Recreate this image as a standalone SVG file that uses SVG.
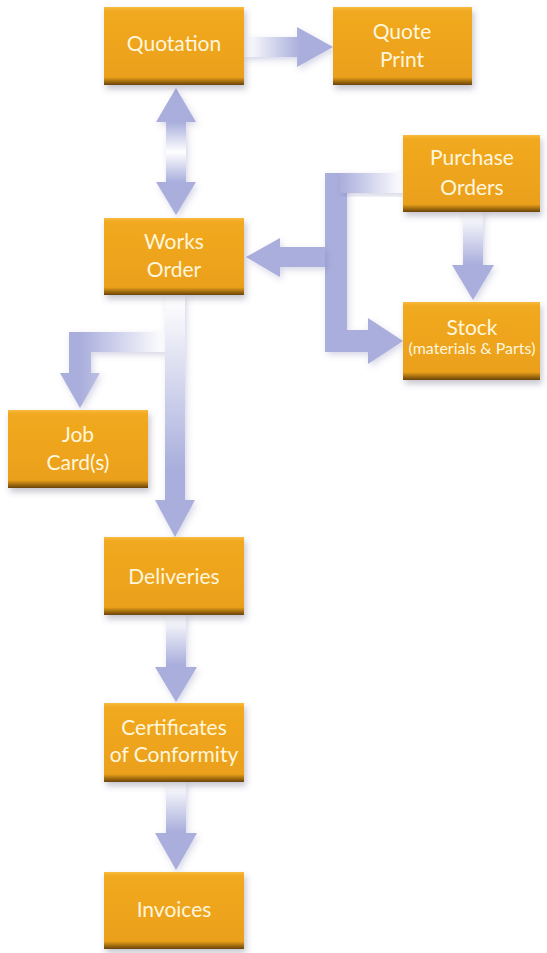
<svg xmlns="http://www.w3.org/2000/svg" width="547" height="953" viewBox="0 0 547 953">
<style>
.box{fill:url(#boxg);filter:url(#sh)}
.lbl{font-family:Lato,"Open Sans","DejaVu Sans",sans-serif;font-size:21px;fill:#FFF6DC;text-anchor:middle}
.sm{font-size:16px}
.arr{fill:#A9AEDC;filter:url(#ash)}
</style>
<defs>
<linearGradient id="boxg" x1="0" y1="0" x2="0" y2="1">
<stop offset="0" stop-color="#F8BC3E"/>
<stop offset="0.05" stop-color="#F1A920"/>
<stop offset="0.9" stop-color="#EBA01A"/>
<stop offset="0.95" stop-color="#A87210"/>
<stop offset="1" stop-color="#6A4408"/>
</linearGradient>
<filter id="sh" x="-10%" y="-10%" width="125%" height="130%">
<feDropShadow dx="2" dy="4" stdDeviation="3" flood-color="#404060" flood-opacity="0.3"/>
</filter>
<filter id="ash" x="-20%" y="-20%" width="140%" height="140%">
<feDropShadow dx="2" dy="3" stdDeviation="3" flood-color="#6064A0" flood-opacity="0.25"/>
</filter>
<linearGradient id="gq" gradientUnits="userSpaceOnUse" x1="246" y1="0" x2="300" y2="0">
<stop offset="0" stop-color="#FFFFFF"/>
<stop offset="1" stop-color="#A9AEDC"/>
</linearGradient>
<linearGradient id="gd" gradientUnits="userSpaceOnUse" x1="0" y1="122" x2="0" y2="182">
<stop offset="0" stop-color="#A9AEDC"/>
<stop offset="0.5" stop-color="#FFFFFF"/>
<stop offset="1" stop-color="#A9AEDC"/>
</linearGradient>
<linearGradient id="gv1" gradientUnits="userSpaceOnUse" x1="0" y1="297" x2="0" y2="470">
<stop offset="0" stop-color="#FFFFFF"/>
<stop offset="1" stop-color="#A9AEDC"/>
</linearGradient>
<linearGradient id="gv2" gradientUnits="userSpaceOnUse" x1="0" y1="617" x2="0" y2="665">
<stop offset="0" stop-color="#FFFFFF"/>
<stop offset="1" stop-color="#A9AEDC"/>
</linearGradient>
<linearGradient id="gv3" gradientUnits="userSpaceOnUse" x1="0" y1="784" x2="0" y2="832">
<stop offset="0" stop-color="#FFFFFF"/>
<stop offset="1" stop-color="#A9AEDC"/>
</linearGradient>
<linearGradient id="gv4" gradientUnits="userSpaceOnUse" x1="0" y1="214" x2="0" y2="265">
<stop offset="0" stop-color="#FFFFFF"/>
<stop offset="1" stop-color="#A9AEDC"/>
</linearGradient>
<linearGradient id="gh1" gradientUnits="userSpaceOnUse" x1="165" y1="0" x2="80" y2="0">
<stop offset="0" stop-color="#FFFFFF"/>
<stop offset="1" stop-color="#A9AEDC"/>
</linearGradient>
<linearGradient id="gh2" gradientUnits="userSpaceOnUse" x1="403" y1="0" x2="340" y2="0">
<stop offset="0" stop-color="#FFFFFF"/>
<stop offset="1" stop-color="#A9AEDC"/>
</linearGradient>
</defs>

<g id="connectors">
<polygon class="arr" style="fill:url(#gq)" points="244,37 297,37 297,27 333,47 297,67 297,57 244,57"/>
<polygon class="arr" style="fill:url(#gd)" points="176,88 196,122 186,122 186,182 196,182 176,215 156,182 166,182 166,122 156,122"/>
<polygon class="arr" points="325,173 347,173 347,330 368,330 368,318 403,341 368,364 368,352 325,352"/>
<polygon class="arr" points="325,247 325,267 280,267 280,277 246,257 280,238 280,247"/>
<rect class="arr" style="fill:url(#gh2)" x="340" y="173" width="63" height="20"/>
<polygon class="arr" style="fill:url(#gv4)" points="463,212 483,212 483,265 494,265 473,300 452,265 463,265"/>
<polygon class="arr" style="fill:url(#gh1)" points="165,332 165,352 91,352 91,373 100,373 80,408 60,373 69,373 69,332"/>
<polygon class="arr" style="fill:url(#gv1)" points="165,295 185,295 185,500 195,500 175,537 155,500 165,500"/>
<polygon class="arr" style="fill:url(#gv2)" points="166,615 186,615 186,667 197,667 176,702 155,667 166,667"/>
<polygon class="arr" style="fill:url(#gv3)" points="166,782 186,782 186,833 197,833 176,870 155,833 166,833"/>
</g>

<g id="quotation"><rect class="box" x="104" y="7" width="140" height="78"/><text class="lbl" x="174" y="51">Quotation</text></g>
<g id="quote-print"><rect class="box" x="333" y="7" width="139" height="78"/><text class="lbl" x="402" y="39">Quote</text><text class="lbl" x="402" y="67">Print</text></g>
<g id="purchase-orders"><rect class="box" x="403" y="135" width="137" height="77"/><text class="lbl" x="472" y="165">Purchase</text><text class="lbl" x="472" y="195">Orders</text></g>
<g id="works-order"><rect class="box" x="104" y="218" width="140" height="77"/><text class="lbl" x="174" y="249">Works</text><text class="lbl" x="174" y="277">Order</text></g>
<g id="stock"><rect class="box" x="403" y="302" width="137" height="78"/><text class="lbl" x="472" y="335">Stock</text><text class="lbl sm" x="472" y="354">(materials &amp; Parts)</text></g>
<g id="job-cards"><rect class="box" x="8" y="410" width="140" height="78"/><text class="lbl" x="78" y="442">Job</text><text class="lbl" x="78" y="470">Card(s)</text></g>
<g id="deliveries"><rect class="box" x="104" y="537" width="140" height="78"/><text class="lbl" x="174" y="584">Deliveries</text></g>
<g id="certificates"><rect class="box" x="104" y="703" width="140" height="79"/><text class="lbl" x="174" y="735">Certificates</text><text class="lbl" x="174" y="762">of Conformity</text></g>
<g id="invoices"><rect class="box" x="104" y="872" width="140" height="77"/><text class="lbl" x="174" y="917">Invoices</text></g>
<text x="522" y="968" style="font-family:Lato,'DejaVu Sans',sans-serif;font-size:22px;fill:#8A8A8A">60</text>
</svg>
